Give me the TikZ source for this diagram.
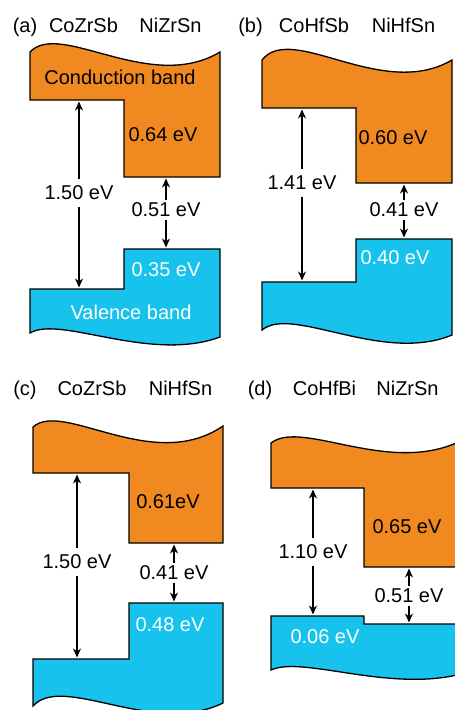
\documentclass[tikz,border=0pt]{standalone}
\usepackage{fontspec}
\setmainfont{Liberation Sans}
\usepackage{xcolor}
\usetikzlibrary{arrows.meta}
\definecolor{cbcolor}{RGB}{240,137,31}
\definecolor{vbcolor}{RGB}{23,195,237}

\begin{document}
\begin{tikzpicture}[x=1pt, y=-1pt, line width=1.3pt,
    cband/.style={fill=cbcolor, draw=black},
    vband/.style={fill=vbcolor, draw=black},
    gaparrow/.style={-{Stealth[length=9pt, width=8pt]}, line width=2.2pt},
    lbl/.style={font=\fontsize{20}{24}\selectfont, inner sep=0pt},
    gaplbl/.style={lbl, inner ysep=6pt},
    sgaplbl/.style={lbl, inner ysep=2pt}]
    \useasboundingbox (0,0) rectangle (455,710);
    \clip (0,0) rectangle (455,710);

    % (a) CoZrSb / NiZrSn
    \draw[cband] (30,100) -- (30,52) .. controls (60,20) and (150,94) .. (220,52)
        -- (220,177) -- (124,177) -- (124,100) -- cycle;
    \draw[vband] (30,289) -- (124,289) -- (124,249) -- (220,249)
        -- (220,337) .. controls (150,363) and (60,315) .. (30,333) -- cycle;
    \node[lbl, anchor=base] (a-id) at (25,32) {(a)};
    \node[lbl, anchor=base] (a-left) at (83.5,32) {CoZrSb};
    \node[lbl, anchor=base] (a-right) at (170.5,32) {NiZrSn};
    \node[lbl] (a-cbt) at (120,77) {Conduction band};
    \node[lbl] (a-cbo) at (163,135) {0.64 eV};
    \node[lbl, white] (a-vbo) at (166,270) {0.35 eV};
    \node[lbl, white] (a-vbt) at (131,312) {Valence band};
    % band gaps
    \coordinate (a-lt) at (79,101.5);
    \coordinate (a-lb) at (79,287.5);
    \node[gaplbl] (a-lg) at (79,193) {1.50 eV};
    \draw[gaparrow] (a-lg) -- (a-lt);
    \draw[gaparrow] (a-lg) -- (a-lb);
    \coordinate (a-st) at (166,178.5);
    \coordinate (a-sb) at (166,247.5);
    \node[sgaplbl] (a-sg) at (166,210) {0.51 eV};
    \draw[gaparrow] (a-sg) -- (a-st);
    \draw[gaparrow] (a-sg) -- (a-sb);

    % (b) CoHfSb / NiHfSn
    \draw[cband] (262,108) -- (262,60) .. controls (292,22) and (382,101) .. (452,60)
        -- (452,183) -- (356,183) -- (356,108) -- cycle;
    \draw[vband] (262,282) -- (356,282) -- (356,239) -- (452,239)
        -- (452,335) .. controls (382,364) and (292,305) .. (262,330) -- cycle;
    \node[lbl, anchor=base] (b-id) at (250.5,32) {(b)};
    \node[lbl, anchor=base] (b-left) at (314,32) {CoHfSb};
    \node[lbl, anchor=base] (b-right) at (403.5,32) {NiHfSn};
    \node[lbl] (b-cbo) at (393,138) {0.60 eV};
    \node[lbl, white] (b-vbo) at (395,258) {0.40 eV};
    % band gaps
    \coordinate (b-lt) at (302,109.5);
    \coordinate (b-lb) at (302,280.5);
    \node[gaplbl] (b-lg) at (302,183) {1.41 eV};
    \draw[gaparrow] (b-lg) -- (b-lt);
    \draw[gaparrow] (b-lg) -- (b-lb);
    \coordinate (b-st) at (404,184.5);
    \coordinate (b-sb) at (404,237.5);
    \node[sgaplbl] (b-sg) at (404,210) {0.41 eV};
    \draw[gaparrow] (b-sg) -- (b-st);
    \draw[gaparrow] (b-sg) -- (b-sb);

    % (c) CoZrSb / NiHfSn
    \draw[cband] (33,473) -- (33,427) .. controls (63,400) and (153,474) .. (223,426)
        -- (223,543) -- (129,543) -- (129,473) -- cycle;
    \draw[vband] (33,659) -- (129,659) -- (129,603) -- (223,603)
        -- (223,703) .. controls (153,737) and (63,673) .. (33,706) -- cycle;
    \node[lbl, anchor=base] (c-id) at (25,395) {(c)};
    \node[lbl, anchor=base] (c-left) at (92,395) {CoZrSb};
    \node[lbl, anchor=base] (c-right) at (180.5,395) {NiHfSn};
    \node[lbl] (c-cbo) at (168,502) {0.61eV};
    \node[lbl, white] (c-vbo) at (170,625) {0.48 eV};
    % band gaps
    \coordinate (c-lt) at (77,474.5);
    \coordinate (c-lb) at (77,657.5);
    \node[gaplbl] (c-lg) at (77,562) {1.50 eV};
    \draw[gaparrow] (c-lg) -- (c-lt);
    \draw[gaparrow] (c-lg) -- (c-lb);
    \coordinate (c-st) at (174,544.5);
    \coordinate (c-sb) at (174,601.5);
    \node[sgaplbl] (c-sg) at (174,573) {0.41 eV};
    \draw[gaparrow] (c-sg) -- (c-st);
    \draw[gaparrow] (c-sg) -- (c-sb);

    % (d) CoHfBi / NiZrSn
    \draw[cband] (271,488) -- (271,443) .. controls (303,418) and (395,480) .. (468,437)
        -- (468,567) -- (364,567) -- (364,488) -- cycle;
    \draw[vband] (271,616) -- (364,616) -- (364,624) -- (468,624)
        -- (468,672) .. controls (395,695) and (303,655) .. (271,670) -- cycle;
    \node[lbl, anchor=base] (d-id) at (260,395) {(d)};
    \node[lbl, anchor=base] (d-left) at (324.5,395) {CoHfBi};
    \node[lbl, anchor=base] (d-right) at (407.5,395) {NiZrSn};
    \node[lbl] (d-cbo) at (407,527) {0.65 eV};
    \node[lbl, white] (d-vbo) at (325,637) {0.06 eV};
    % band gaps
    \coordinate (d-lt) at (313,489.5);
    \coordinate (d-lb) at (313,614.5);
    \node[gaplbl] (d-lg) at (313,552) {1.10 eV};
    \draw[gaparrow] (d-lg) -- (d-lt);
    \draw[gaparrow] (d-lg) -- (d-lb);
    \coordinate (d-st) at (409,568.5);
    \coordinate (d-sb) at (409,622.5);
    \node[sgaplbl] (d-sg) at (409,596) {0.51 eV};
    \draw[gaparrow] (d-sg) -- (d-st);
    \draw[gaparrow] (d-sg) -- (d-sb);
\end{tikzpicture}
\end{document}
